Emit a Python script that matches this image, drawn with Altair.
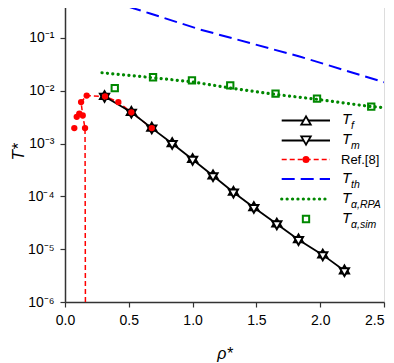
import altair as alt
import pandas as pd

# ---------------- data ----------------
# T_f and T_m (coincident)
rho_fm = [0.31, 0.52, 0.68, 0.84, 1.00, 1.16, 1.32, 1.48, 1.66, 1.83, 2.02, 2.19]
T_f = [0.0078, 0.0039, 0.00196, 0.00100, 0.00050, 0.000245, 0.000120,
       0.0000615, 0.0000300, 0.0000151, 0.0000078, 0.0000039]
T_m = [0.0078, 0.0039, 0.00196, 0.00100, 0.00050, 0.000245, 0.000120,
       0.0000615, 0.0000300, 0.0000151, 0.0000078, 0.0000039]

# Ref.[8] : dashed path and markers
rho_ref_line = [0.160, 0.157, 0.139, 0.126, 0.170, 0.314, 0.418, 0.52, 0.68]
T_ref_line = [0.000001, 0.00196, 0.0034, 0.0061, 0.0081, 0.0078, 0.0061, 0.0039, 0.00196]
rho_ref_pts = [0.073, 0.092, 0.112, 0.139, 0.126, 0.170, 0.157, 0.314, 0.418, 0.52, 0.68]
T_ref_pts = [0.00196, 0.0032, 0.0037, 0.0034, 0.0061, 0.0081, 0.00196, 0.0078, 0.0061, 0.0039, 0.00196]

# T_th
rho_th = [0.354, 0.667, 1.06, 1.845, 2.5]
T_th = [0.50, 0.29, 0.144, 0.044, 0.0145]

# T_alpha,RPA
rho_rpa = [0.29, 0.69, 1.00, 1.30, 1.65, 1.97, 2.40, 2.50]
T_rpa = [0.0219, 0.0176, 0.0147, 0.0112, 0.0085, 0.0069, 0.0050, 0.0048]

# T_alpha,sim
rho_sim = [0.39, 0.69, 0.995, 1.295, 1.65, 1.975, 2.40]
T_sim = [0.0112, 0.0180, 0.0157, 0.0126, 0.0088, 0.0071, 0.0050]

x_ticks = [0.0, 0.5, 1.0, 1.5, 2.0, 2.5]
y_ticks = [1e-6, 1e-5, 1e-4, 1e-3, 1e-2, 1e-1]
y_tick_labels = ["10⁻⁶", "10⁻⁵", "10⁻⁴", "10⁻³", "10⁻²", "10⁻¹"]

legend_main = ["T", "T", "Ref.[8]", "T", "T", "T"]
legend_sub = ["f", "m", "", "th", "α,RPA", "α,sim"]

# ---------------- chart ----------------
FONT = "Liberation Sans"
GREEN = "#008800"
W, H = 319, 301
TRI_UP = "M0,-1L0.866,0.5L-0.866,0.5Z"
TRI_DOWN = "M0,1L0.866,-0.5L-0.866,-0.5Z"
DOTS = [0.1, 5.3]

xs = alt.Scale(domain=[0, 2.5], nice=False, zero=False)
ys = alt.Scale(type="log", domain=[1e-6, 0.5], nice=False)

label_expr = "[" + ",".join("'%s'" % s for s in y_tick_labels) + "][round(log(datum.value)/LN10)+6]"

X = alt.X("rho:Q", scale=xs,
          axis=alt.Axis(values=x_ticks, format=".1f", title="ρ*", grid=False,
                        labelFlush=False, labelOverlap=False,
                        labelAlign={"expr": "datum.value >= 2.5 ? 'right' : 'center'"},
                        tickSize=5, labelPadding=6, labelFontSize=14, labelFont=FONT,
                        titleFont=FONT, titleFontSize=16, titleFontStyle="italic",
                        titleFontWeight="normal", titleBaseline="top", titleY=43,
                        domainColor="#333", tickColor="#333", labelColor="#000",
                        domainWidth=1.5, tickWidth=1.2))
Y = alt.Y("T:Q", scale=ys,
          axis=alt.Axis(values=y_ticks, labelExpr=label_expr, title="T*", grid=False,
                        labelOverlap=False,
                        tickSize=5, labelPadding=6, labelFontSize=14, labelFont=FONT,
                        titleFont=FONT, titleFontSize=17, titleFontStyle="italic",
                        titleFontWeight="normal", titleX=-42, titleAngle=-90,
                        titleBaseline="alphabetic",
                        domainColor="#333", tickColor="#333", labelColor="#000",
                        domainWidth=1.5, tickWidth=1.2))

def df(x, y):
    return pd.DataFrame({"rho": x, "T": y, "idx": list(range(len(x)))})

th_line = alt.Chart(df(rho_th, T_th)).mark_line(
    color="#0000ff", strokeWidth=2, strokeDash=[13, 6], clip=True
).encode(x=X, y=Y)

rpa_line = alt.Chart(df(rho_rpa, T_rpa)).mark_line(
    color=GREEN, strokeWidth=3.2, strokeDash=DOTS, strokeCap="round", clip=True
).encode(x=X, y=Y)

sim_pts = alt.Chart(df(rho_sim, T_sim)).mark_point(
    shape="square", size=40, color=GREEN, strokeWidth=2, filled=False, opacity=1, clip=True
).encode(x=X, y=Y)

ref_line = alt.Chart(df(rho_ref_line, T_ref_line)).mark_line(
    color="#ff0000", strokeWidth=1.5, strokeDash=[5, 3], clip=True
).encode(x=X, y=Y, order="idx:Q")

fm_line = alt.Chart(df(rho_fm, T_f)).mark_line(
    color="#000000", strokeWidth=1.8, clip=True
).encode(x=X, y=Y)

tf_pts = alt.Chart(df(rho_fm, T_f)).mark_point(
    shape=TRI_UP, size=110, color="#000", fill="#fff", strokeWidth=2,
    filled=False, opacity=1, fillOpacity=1, clip=True
).encode(x=X, y=Y)

tm_pts = alt.Chart(df(rho_fm, T_m)).mark_point(
    shape=TRI_DOWN, size=110, color="#000", fill="#fff", strokeWidth=2,
    filled=False, opacity=1, fillOpacity=1, clip=True
).encode(x=X, y=Y)

ref_pts = alt.Chart(df(rho_ref_pts, T_ref_pts)).mark_circle(
    size=40, color="#ff0000", opacity=1, clip=True
).encode(x=X, y=Y)

layers = [th_line, rpa_line, sim_pts, ref_line, fm_line, tf_pts, tm_pts, ref_pts]

# ---------------- hand-built legend (for subscripts) ----------------
row_y = [119.5, 139.5, 158.5, 178, 198, 218]
lx1, lx2, lxc, tx, sx = 216.7, 265, 241, 277, 286
anchor = alt.Chart(pd.DataFrame({"a": [0]}))

line_styles = [
    dict(color="#000", strokeWidth=1.8),
    dict(color="#000", strokeWidth=1.8),
    dict(color="#ff0000", strokeWidth=1.5, strokeDash=[5, 3]),
    dict(color="#0000ff", strokeWidth=2, strokeDash=[13, 6]),
    dict(color=GREEN, strokeWidth=3.2, strokeDash=DOTS, strokeCap="round"),
    None,
]
for i, yv in enumerate(row_y):
    st = line_styles[i]
    if st is not None:
        layers.append(anchor.mark_rule(**st).encode(
            x=alt.value(lx1), x2=alt.value(lx2), y=alt.value(yv)))
layers.append(anchor.mark_point(shape="triangle-up", size=90, color="#000", fill="#fff",
                                strokeWidth=1.8, filled=False, opacity=1, fillOpacity=1)
              .encode(x=alt.value(lxc), y=alt.value(row_y[0])))
layers.append(anchor.mark_point(shape="triangle-down", size=90, color="#000", fill="#fff",
                                strokeWidth=1.8, filled=False, opacity=1, fillOpacity=1)
              .encode(x=alt.value(lxc), y=alt.value(row_y[1])))
layers.append(anchor.mark_circle(size=50, color="#ff0000", opacity=1)
              .encode(x=alt.value(lxc), y=alt.value(row_y[2])))
layers.append(anchor.mark_point(shape="square", size=40, color=GREEN, strokeWidth=2,
                                filled=False, opacity=1)
              .encode(x=alt.value(lxc), y=alt.value(row_y[5])))

for i, yv in enumerate(row_y):
    if legend_sub[i]:
        layers.append(anchor.mark_text(text=legend_main[i], font=FONT, fontSize=15,
                                       fontStyle="italic", align="left", baseline="middle",
                                       color="#000")
                      .encode(x=alt.value(tx), y=alt.value(yv - 1.5)))
        layers.append(anchor.mark_text(text=legend_sub[i], font=FONT, fontSize=10.5,
                                       fontStyle="italic", align="left", baseline="middle",
                                       color="#000")
                      .encode(x=alt.value(sx), y=alt.value(yv + 5.5)))
    else:
        layers.append(anchor.mark_text(text=legend_main[i], font=FONT, fontSize=13,
                                       align="left", baseline="middle", color="#000")
                      .encode(x=alt.value(tx - 1), y=alt.value(yv + 0.5)))

chart = alt.layer(*layers).properties(
    width=W, height=H,
    autosize=alt.AutoSizeParams(type="none"),
    padding={"left": 57, "top": -7, "right": 2, "bottom": 61},
).configure_view(
    stroke="#333", strokeWidth=1.5
).configure(background="white")

chart.save("out.html", embed_options={"renderer": "svg", "actions": False})
